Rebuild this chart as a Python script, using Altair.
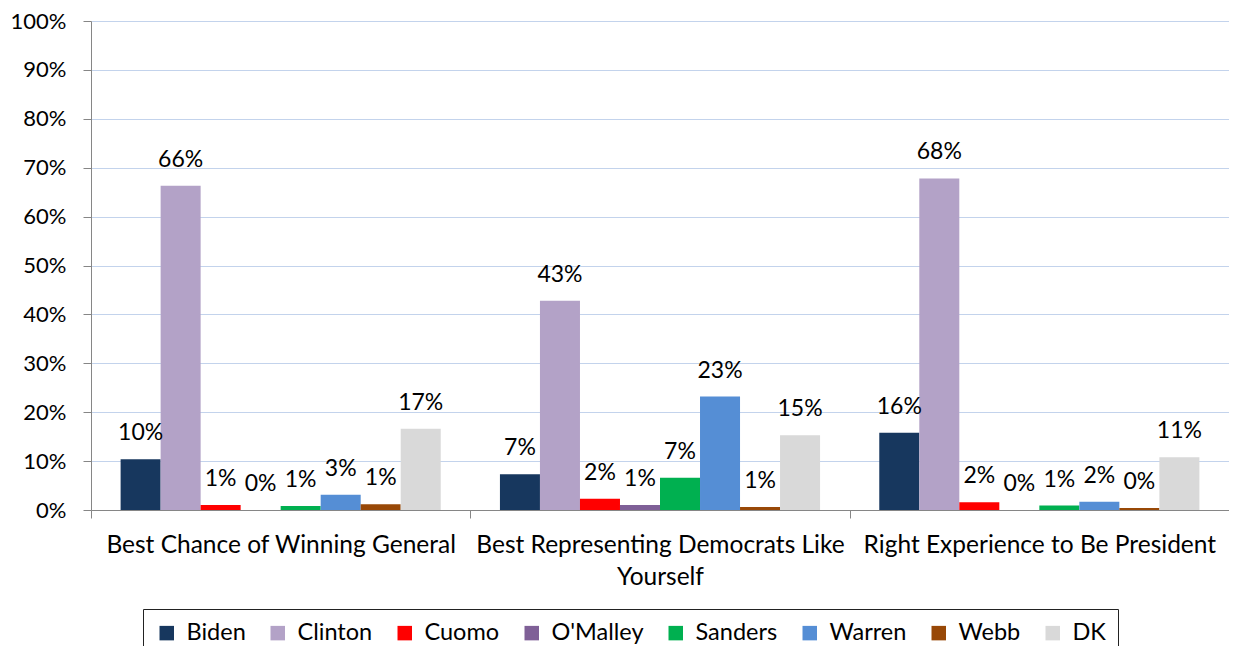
import altair as alt
import pandas as pd

categories = [
    "Best Chance of Winning General",
    "Best Representing Democrats Like Yourself",
    "Right Experience to Be President",
]
candidates = ["Biden", "Clinton", "Cuomo", "O'Malley", "Sanders", "Warren", "Webb", "DK"]
colors = ["#17375E", "#B3A2C7", "#FF0000", "#7F6097", "#00B050", "#558ED5", "#984807", "#D9D9D9"]

winning_general = [10.4, 66.3, 1.0, 0.0, 0.8, 3.1, 1.2, 16.6]
representing = [7.3, 42.8, 2.3, 1.0, 6.6, 23.2, 0.6, 15.3]
experience = [15.8, 67.8, 1.6, 0.0, 0.9, 1.7, 0.4, 10.8]

series = [winning_general, representing, experience]
rows = []
for cat, vals in zip(categories, series):
    for cand, v in zip(candidates, vals):
        rows.append({"category": cat, "candidate": cand, "value": v})
df = pd.DataFrame(rows)

FONT = "Lato"

base = alt.Chart(df).transform_calculate(
    label="format(datum.value / 100, '.0%')"
).encode(
    x=alt.X(
        "category:N",
        sort=categories,
        scale=alt.Scale(paddingInner=0, paddingOuter=0),
        axis=alt.Axis(
            title=None,
            labelAngle=0,
            labelFontSize=24.5,
            labelFont=FONT,
            labelColor="#000000",
            labelPadding=15,
            labelLimit=500,
            labelLineHeight=32,
            labelExpr="datum.label == 'Best Representing Democrats Like Yourself' ? ['Best Representing Democrats Like', 'Yourself'] : datum.label",
            tickBand="extent",
            tickSize=8,
            tickColor="#868686",
            domainColor="#868686",
            grid=False,
        ),
    ),
    xOffset=alt.XOffset(
        "candidate:N",
        sort=candidates,
        scale=alt.Scale(paddingInner=0, paddingOuter=0.74),
    ),
    y=alt.Y(
        "value:Q",
        scale=alt.Scale(domain=[0, 100]),
        axis=alt.Axis(
            title=None,
            values=[0, 10, 20, 30, 40, 50, 60, 70, 80, 90, 100],
            labelExpr="datum.value + '%'",
            labelFontSize=22,
            labelFont=FONT,
            labelColor="#000000",
            labelPadding=17,
            tickSize=8,
            tickColor="#868686",
            domainColor="#868686",
            gridColor="#C3D3EC",
            gridWidth=1.2,
        ),
    ),
)

bars = base.mark_bar().encode(
    color=alt.Color(
        "candidate:N",
        sort=candidates,
        scale=alt.Scale(domain=candidates, range=colors),
        legend=alt.Legend(
            title=None,
            orient="none",
            legendX=52,
            legendY=588,
            direction="horizontal",
            columns=8,
            symbolType="square",
            symbolSize=210,
            symbolStrokeWidth=0,
            labelFontSize=23.5,
            labelFont=FONT,
            labelColor="#000000",
            labelOffset=8,
            columnPadding=20,
            padding=12,
            strokeColor="#222222",
            fillColor="#FFFFFF",
        ),
    )
)

texts = base.mark_text(
    baseline="middle", dy=-26, fontSize=23, font=FONT, color="#000000"
).encode(text="label:N")

chart = (
    alt.layer(bars, texts)
    .properties(
        width=1138,
        height=489,
        autosize=alt.AutoSizeParams(type="none"),
        padding={"left": 83, "top": 13, "right": 0, "bottom": 136},
        background="#FFFFFF",
    )
    .configure_view(stroke=None)
)

chart.save("out.html", embed_options={"renderer": "svg", "actions": False})
